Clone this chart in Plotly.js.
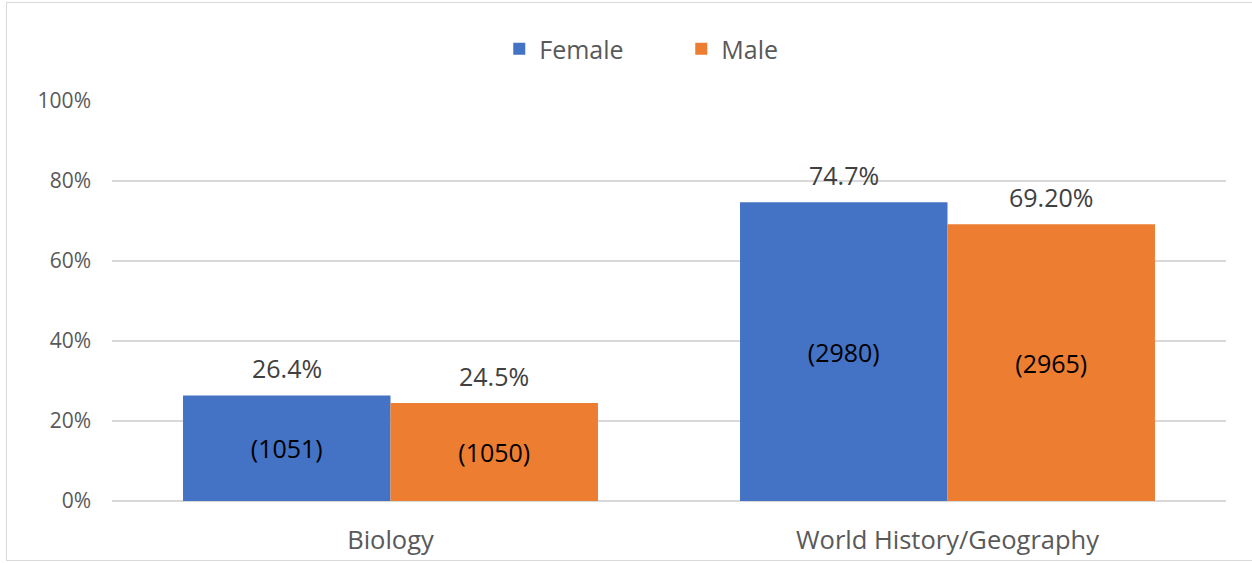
<!DOCTYPE html>
<html>
<head>
<meta charset="utf-8">
<script src="https://cdn.plot.ly/plotly-3.0.1.min.js"></script>
<style>
  html, body { margin: 0; padding: 0; background: #fff; }
  #wrap { position: relative; width: 1252px; height: 563px; overflow: hidden; }
  #chart { width: 1252px; height: 563px; }
  #frame { position: absolute; left: 6px; top: 2px; width: 1260px; height: 559px;
           border: 1.5px solid #d9d9d9; pointer-events: none; box-sizing: border-box; }
</style>
</head>
<body>
<div id="wrap"><div id="chart"></div><div id="frame"></div></div>
<script>
const categories = ["Biology", "World History/Geography"];
const femaleValues = [26.4, 74.7];
const maleValues = [24.5, 69.2];
const femaleLabels = ["26.4%", "74.7%"];
const maleLabels = ["24.5%", "69.20%"];
const femaleCounts = ["(1051)", "(2980)"];
const maleCounts = ["(1050)", "(2965)"];
const yTicks = [0, 20, 40, 60, 80, 100];
const yTickLabels = ["0%", "20%", "40%", "60%", "80%", "100%"];

const FONT = "Open Sans, sans-serif";
const margin = {l: 112, r: 26, t: 101, b: 62};
const bargap = 0.255;
const plotW = 1252 - margin.l - margin.r;
const barOffsetPx = (plotW / categories.length) * (1 - bargap) / 4;

const traces = [
  {
    type: "bar", name: "Female", x: categories, y: femaleValues,
    marker: {color: "#4472C4"},
    text: femaleCounts, textposition: "inside", insidetextanchor: "middle",
    textfont: {family: FONT, size: 25, color: "#000000"},
    hoverinfo: "skip"
  },
  {
    type: "bar", name: "Male", x: categories, y: maleValues,
    marker: {color: "#ED7D31"},
    text: maleCounts, textposition: "inside", insidetextanchor: "middle",
    textfont: {family: FONT, size: 25, color: "#000000"},
    hoverinfo: "skip"
  }
];

const annotations = [];
categories.forEach((c, i) => {
  annotations.push({x: c, y: femaleValues[i], xref: "x", yref: "y", text: femaleLabels[i],
    showarrow: false, xshift: -barOffsetPx, yshift: 27, yanchor: "middle",
    font: {family: FONT, size: 25, color: "#404040"}});
  annotations.push({x: c, y: maleValues[i], xref: "x", yref: "y", text: maleLabels[i],
    showarrow: false, xshift: barOffsetPx, yshift: 27, yanchor: "middle",
    font: {family: FONT, size: 25, color: "#404040"}});
});

const layout = {
  width: 1252, height: 563,
  margin: margin,
  paper_bgcolor: "#ffffff", plot_bgcolor: "#ffffff",
  barmode: "group", bargap: bargap, bargroupgap: 0,
  font: {family: FONT, color: "#595959"},
  showlegend: true,
  legend: {orientation: "h", x: 0.511, xanchor: "center", y: 1.13, yanchor: "middle",
           font: {family: FONT, size: 25, color: "#595959"}, itemwidth: 30,
           entrywidth: 137, traceorder: "normal"},
  xaxis: {type: "category", showgrid: false, showline: false, zeroline: false,
          tickfont: {family: FONT, size: 25.5, color: "#595959"}, ticks: "",
          ticklabelstandoff: 21, fixedrange: true},
  yaxis: {range: [0, 100], tickvals: yTicks, ticktext: yTickLabels,
          showgrid: true, gridcolor: "#d9d9d9", gridwidth: 1.5,
          zeroline: true, zerolinecolor: "#d9d9d9", zerolinewidth: 1.5,
          showline: false, ticks: "", ticklabelstandoff: 20,
          tickfont: {family: FONT, size: 21, color: "#595959"}, fixedrange: true},
  annotations: annotations
};

Plotly.newPlot("chart", traces, layout, {displayModeBar: false, staticPlot: true});
</script>
</body>
</html>
